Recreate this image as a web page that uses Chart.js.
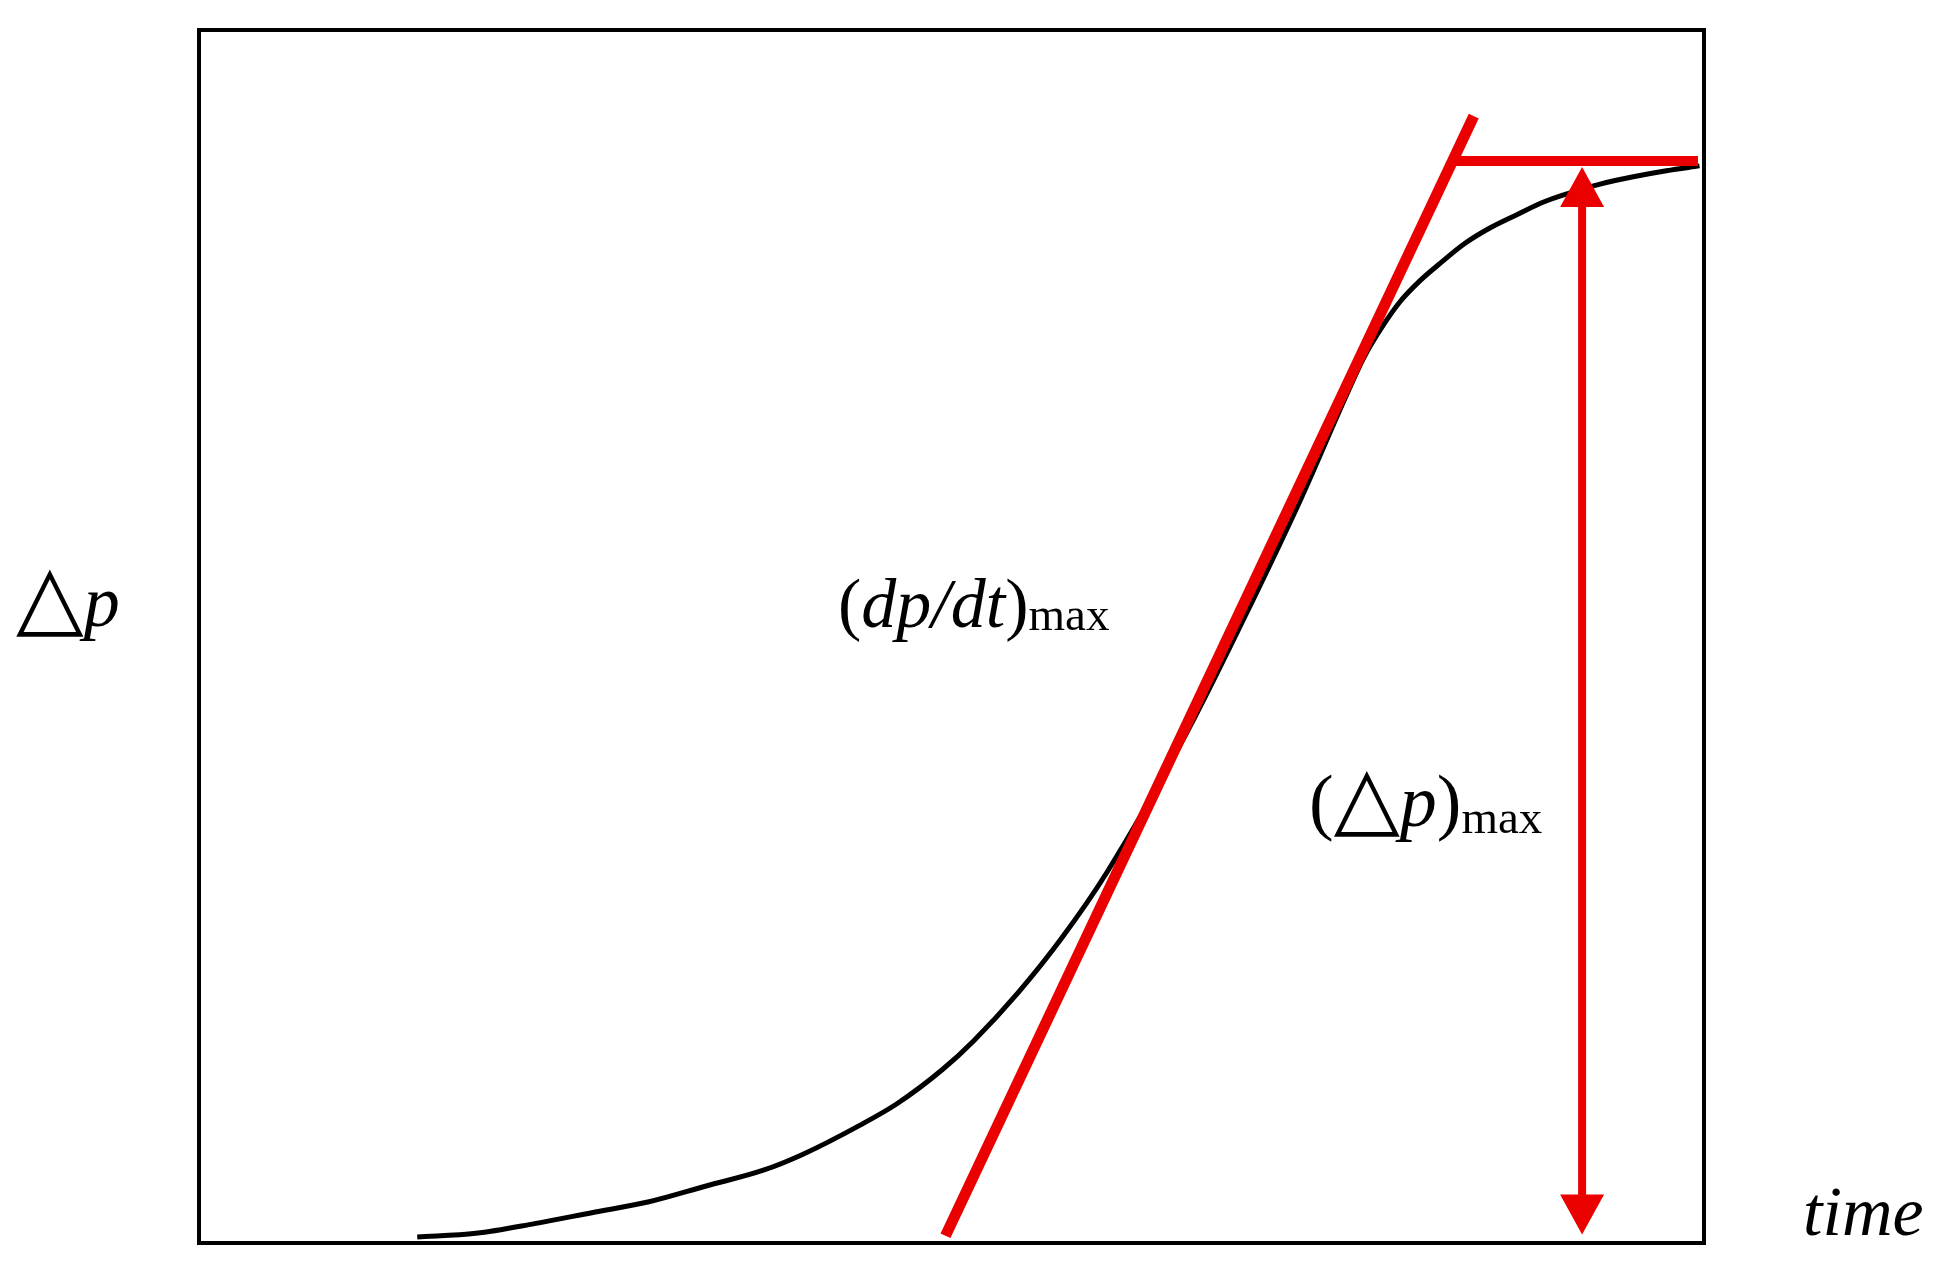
<!DOCTYPE html>
<html>
<head>
<meta charset="utf-8">
<script src="https://cdn.jsdelivr.net/npm/chart.js@4.4.0/dist/chart.umd.min.js"></script>
<style>
  html, body { margin: 0; padding: 0; background: #fff; }
  #wrap { width: 1959px; height: 1285px; }
</style>
</head>
<body>
<div id="wrap"><canvas id="chart" width="1959" height="1285"></canvas></div>
<script>
// pressure rise curve, both axes in 0..100 (no ticks on the picture)
var curveX = [14.5, 18.4, 22.3, 26.1, 29.9, 33.7, 37.5, 40.1, 43.9, 46.4, 49.4, 51.5, 54.4, 57.3, 60.3, 65.6, 69.4, 73.2, 76.1, 77.4, 78.6, 79.8, 81.1, 82.5, 84.1, 85.8, 87.6, 89.3, 90.9, 93.1, 95.3, 97.5, 99.7];
var curveY = [0.5, 0.8, 1.6, 2.5, 3.4, 4.7, 6.0, 7.3, 9.7, 11.5, 14.3, 16.7, 20.6, 25.1, 30.5, 42.0, 51.4, 61.3, 69.5, 73.0, 75.5, 77.6, 79.3, 80.8, 82.4, 83.7, 84.8, 85.8, 86.5, 87.3, 87.9, 88.4, 88.8];

// max slope tangent
var tangentX = [49.6, 84.7];
var tangentY = [0.6, 92.9];

// level of the max pressure
var maxLineX = [83.5, 99.6];
var maxLineY = [89.2, 89.2];

// double arrow (tips)
var arrowX = [91.9, 91.9];
var arrowY = [0.7, 88.7];

var RED = 'rgb(235, 0, 0)';
var SERIF = '"Liberation Serif", "Times New Roman", "DejaVu Serif", serif';

function toPts(xs, ys) {
    var out = [];
    for (var i = 0; i < xs.length; i++) {
        out.push({x: xs[i], y: ys[i]});
    }
    return out;
}

var framePlugin = {
    id: 'frame',
    afterDatasetsDraw: function (chart) {
        var a = chart.chartArea, ctx = chart.ctx;
        ctx.save();
        ctx.strokeStyle = '#000';
        ctx.lineWidth = 4;
        ctx.strokeRect(a.left, a.top, a.right - a.left, a.bottom - a.top);
        ctx.restore();
    }
};

// shaft + heads of the double arrow, positions come from the arrow dataset
var arrowPlugin = {
    id: 'arrows',
    afterDatasetsDraw: function (chart) {
        var meta = chart.getDatasetMeta(3);
        var bottom = meta.data[0], top = meta.data[1];
        var ctx = chart.ctx;
        var headH = 40, headW = 22;
        ctx.save();
        ctx.strokeStyle = RED;
        ctx.fillStyle = RED;
        ctx.lineWidth = 8;
        ctx.beginPath();
        ctx.moveTo(top.x, top.y + headH - 2);
        ctx.lineTo(bottom.x, bottom.y - headH + 2);
        ctx.stroke();

        ctx.beginPath();
        ctx.moveTo(top.x, top.y);
        ctx.lineTo(top.x - headW, top.y + headH);
        ctx.lineTo(top.x + headW, top.y + headH);
        ctx.closePath();
        ctx.fill();

        ctx.beginPath();
        ctx.moveTo(bottom.x, bottom.y);
        ctx.lineTo(bottom.x - headW, bottom.y - headH);
        ctx.lineTo(bottom.x + headW, bottom.y - headH);
        ctx.closePath();
        ctx.fill();
        ctx.restore();
    }
};

function drawRuns(ctx, x, y, runs) {
    for (var i = 0; i < runs.length; i++) {
        var r = runs[i];
        ctx.font = r.font;
        ctx.fillText(r.t, x, y + (r.dy || 0));
        x += ctx.measureText(r.t).width + (r.gap || 0);
    }
}

var labelPlugin = {
    id: 'labels',
    afterDraw: function (chart) {
        var ctx = chart.ctx;
        ctx.save();
        ctx.fillStyle = '#000';
        ctx.textBaseline = 'alphabetic';
        ctx.textAlign = 'left';

        drawRuns(ctx, 16, 626, [
            {t: '\u25B3', font: '88px ' + SERIF},
            {t: 'p', font: 'italic 72px ' + SERIF}
        ]);

        drawRuns(ctx, 838, 627, [
            {t: '(', font: '70px ' + SERIF},
            {t: 'dp/dt', font: 'italic 70px ' + SERIF},
            {t: ')', font: '70px ' + SERIF},
            {t: 'max', font: '47px ' + SERIF, dy: 3}
        ]);

        drawRuns(ctx, 1309, 826, [
            {t: '(', font: '74px ' + SERIF},
            {t: '\u25B3', font: '86px ' + SERIF},
            {t: 'p', font: 'italic 74px ' + SERIF},
            {t: ')', font: '74px ' + SERIF},
            {t: 'max', font: '47px ' + SERIF, dy: 7}
        ]);

        ctx.font = 'italic 70px ' + SERIF;
        ctx.fillText('time', 1803, 1235);
        ctx.restore();
    }
};

var ctx = document.getElementById('chart').getContext('2d');
new Chart(ctx, {
    type: 'scatter',
    data: {
        datasets: [
            {
                data: toPts(curveX, curveY),
                showLine: true,
                borderColor: '#000',
                borderWidth: 5,
                pointRadius: 0,
                cubicInterpolationMode: 'monotone',
                order: 4
            },
            {
                data: toPts(tangentX, tangentY),
                showLine: true,
                borderColor: RED,
                borderWidth: 11,
                pointRadius: 0,
                order: 2
            },
            {
                data: toPts(maxLineX, maxLineY),
                showLine: true,
                borderColor: RED,
                borderWidth: 10,
                pointRadius: 0,
                order: 1
            },
            {
                data: toPts(arrowX, arrowY),
                showLine: false,
                pointRadius: 0,
                order: 3
            }
        ]
    },
    options: {
        responsive: false,
        animation: false,
        layout: {padding: {left: 199, top: 30, right: 255, bottom: 42}},
        scales: {
            x: {type: 'linear', min: 0, max: 100, display: false},
            y: {type: 'linear', min: 0, max: 100, display: false}
        },
        plugins: {
            legend: {display: false},
            tooltip: {enabled: false}
        }
    },
    plugins: [framePlugin, arrowPlugin, labelPlugin]
});
</script>
</body>
</html>
